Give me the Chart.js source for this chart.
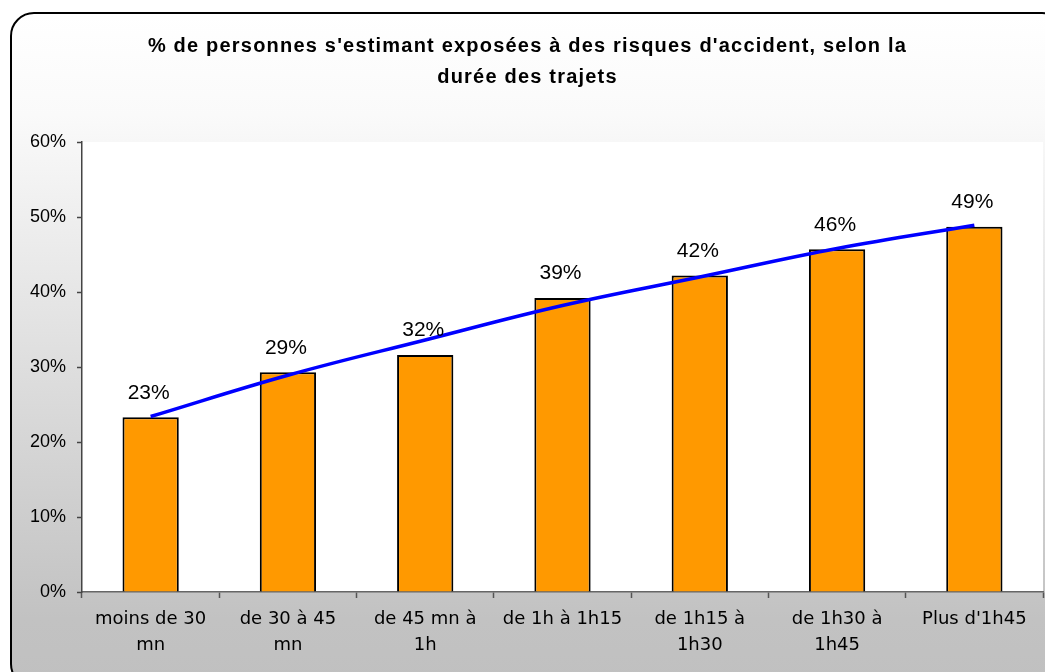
<!doctype html>
<html lang="fr">
  <head>
    <meta charset="utf-8">
    <title>Risques d'accident selon la durée des trajets</title>
    <style>
      * {
        margin: 0;
        padding: 0;
      }
      body {
        width: 1045px;
        height: 672px;
        overflow: hidden;
        position: relative;
        background: white;
      }
      .frame {
        position: absolute;
        left: 10px;
        top: 12px;
        width: 1052px;
        height: 672px;
        border: 2px solid #000;
        border-radius: 24px;
        background: linear-gradient(to bottom, #ffffff 0%, #fafafa 15%, #c2c2c2 90%, #c0c0c0 100%);
      }
      .chartBox {
        position: absolute;
        left: 0;
        top: 0;
        width: 1045px;
        height: 672px;
      }
    </style>
  </head>
  <body>
    <div class="frame"></div>
    <div class="chartBox">
      <canvas id="myChart"></canvas>
    </div>
    <script src="https://cdn.jsdelivr.net/npm/chart.js/dist/chart.umd.min.js"></script>
    <script>

    // data
    const categories = [
      ['moins de 30', 'mn'],
      ['de 30 à 45', 'mn'],
      ['de 45 mn à', '1h'],
      'de 1h à 1h15',
      ['de 1h15 à', '1h30'],
      ['de 1h30 à', '1h45'],
      "Plus d'1h45"
    ];
    const shares = [23.3, 29.3, 31.6, 39.2, 42.2, 45.7, 48.7];
    const trend = [23.4, 28.9, 33.6, 38.2, 42.0, 45.8, 48.9];
    const yTicks = [0, 10, 20, 30, 40, 50, 60];
    const titleLines = [
      "% de personnes s'estimant exposées à des risques d'accident, selon la",
      'durée des trajets'
    ];

    // white plot area
    const plotBackground = {
      id: 'plotBackground',
      beforeDraw(chart) {
        const {ctx, chartArea: a} = chart;
        ctx.save();
        ctx.fillStyle = '#ffffff';
        ctx.fillRect(a.left, a.top, a.right - a.left, a.bottom - a.top);
        ctx.restore();
      }
    };

    // value labels above the bars
    const barLabels = {
      id: 'barLabels',
      afterDatasetsDraw(chart) {
        const ctx = chart.ctx;
        const meta = chart.getDatasetMeta(1);
        ctx.save();
        ctx.font = '21px "Liberation Sans", Arial, sans-serif';
        ctx.fillStyle = '#000';
        ctx.textAlign = 'center';
        ctx.textBaseline = 'bottom';
        meta.data.forEach((bar, i) => {
          ctx.fillText(Math.round(shares[i]) + '%', bar.x - 2, bar.y - 14);
        });
        ctx.restore();
      }
    };

    const data = {
      labels: categories,
      datasets: [{
        type: 'line',
        data: trend,
        borderColor: '#0000ff',
        borderWidth: 3.5,
        pointRadius: 0,
        tension: 0.4,
        order: 0
      }, {
        type: 'bar',
        data: shares,
        backgroundColor: '#ff9900',
        borderColor: '#000',
        borderWidth: 2,
        barPercentage: 0.41,
        categoryPercentage: 1,
        order: 1
      }]
    };

    const config = {
      data,
      options: {
        responsive: true,
        maintainAspectRatio: false,
        animation: false,
        layout: {
          padding: {left: 12, right: 2, top: 0, bottom: 0}
        },
        plugins: {
          legend: {display: false},
          tooltip: {enabled: false},
          title: {
            display: true,
            text: titleLines,
            color: '#000',
            font: {family: '"Liberation Sans", Arial, sans-serif', size: 20, weight: 'bold', lineHeight: 31 / 20},
            padding: {top: 31, bottom: 49}
          }
        },
        scales: {
          x: {
            grid: {
              drawOnChartArea: false,
              tickLength: 6,
              tickColor: '#555',
              tickWidth: 1.5
            },
            border: {color: '#666', width: 1.5},
            ticks: {
              color: '#000',
              padding: 8,
              maxRotation: 0,
              autoSkip: false,
              font: {family: '"DejaVu Sans", sans-serif', size: 18, lineHeight: 26 / 18}
            },
            afterFit(scale) {
              scale.height = 80;
            }
          },
          y: {
            min: 0,
            max: 60,
            afterBuildTicks(scale) {
              scale.ticks = yTicks.map(v => ({value: v}));
            },
            grid: {
              drawOnChartArea: false,
              tickLength: 5,
              tickColor: '#444',
              tickWidth: 1.5
            },
            border: {color: '#444', width: 1.5},
            ticks: {
              color: '#000',
              padding: 11,
              font: {family: '"Liberation Sans", Arial, sans-serif', size: 18},
              callback: v => v + '%'
            },
            afterFit(scale) {
              scale.width = 70;
            }
          }
        }
      },
      plugins: [plotBackground, barLabels]
    };

    const myChart = new Chart(document.getElementById('myChart'), config);

    // spaced-out title letters, like the original
    const drawTitle = myChart.titleBlock.draw;
    myChart.titleBlock.draw = function() {
      const ctx = this.ctx;
      ctx.save();
      ctx.letterSpacing = '1.2px';
      drawTitle.apply(this, arguments);
      ctx.restore();
    };
    myChart.draw();
    </script>
  </body>
</html>
